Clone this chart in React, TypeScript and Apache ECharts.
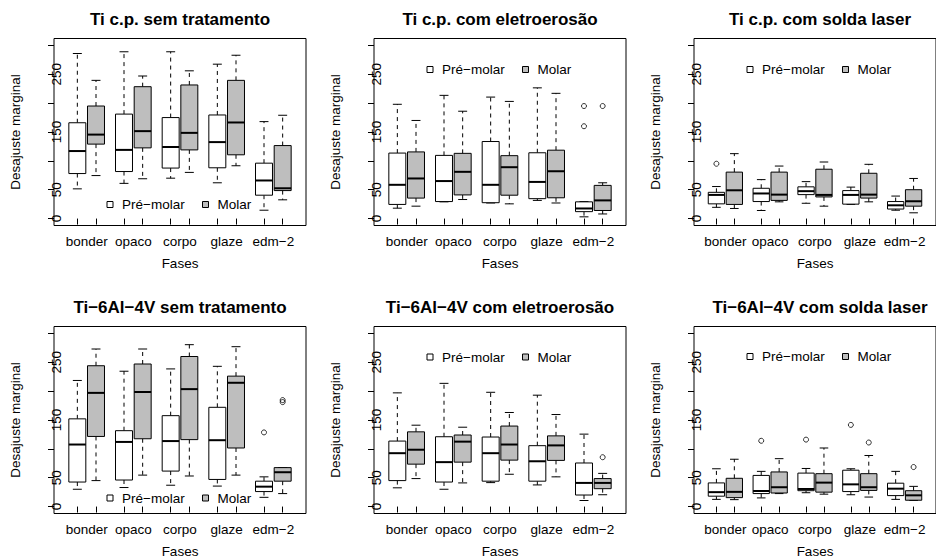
import React, { useEffect, useRef } from "react";
import * as echarts from "echarts";

const FONT = "'Liberation Sans', Arial, Helvetica, sans-serif";

const fases = ["bonder", "opaco", "corpo", "glaze", "edm−2"];
const tipos = ["Pré−molar", "Molar"];
const titulos = [
  "Ti c.p. sem tratamento",
  "Ti c.p. com eletroerosão",
  "Ti c.p. com solda laser",
  "Ti−6Al−4V sem tratamento",
  "Ti−6Al−4V com eletroerosão",
  "Ti−6Al−4V com solda laser",
];
const yTicks = [0, 50, 100, 150, 200, 250, 300];
const yLabels = [0, 50, 150, 250];

// [min, Q1, mediana, Q3, max] por fase
const tiSemPre = [[51.5, 78, 117, 166, 286], [61, 81.5, 119, 181, 289], [70, 87.5, 124, 175, 289], [62, 88, 132.5, 179.5, 267.5], [14.5, 40.5, 66, 96, 168]];
const tiSemMol = [[74.5, 129, 145.5, 195, 239.5], [69, 122.5, 151.5, 228.5, 247], [80, 119, 148.5, 231.5, 256], [91.5, 110.5, 166.5, 239.5, 283], [32.5, 48.5, 52.5, 126.5, 179]];
const tiElePre = [[18, 24.5, 58.5, 113.5, 198], [29, 29.5, 65, 109.5, 213.5], [27, 27.5, 58.5, 133.5, 210.5], [31.5, 34.5, 63.5, 114, 226.5], [3, 12, 17.5, 29, 29.5]];
const tiEleMol = [[21.5, 35.5, 69.5, 115.5, 170], [33, 41, 81, 113, 186], [25.5, 40.5, 89, 109, 203], [27, 36, 82, 118.5, 217], [8, 14, 31.5, 57.5, 62]];
const tiLasPre = [[19.5, 25.5, 41, 45.5, 55.5], [14, 29.5, 43.5, 52.5, 67.5], [26.5, 41.5, 47.5, 55, 64], [24.5, 25, 41, 48.5, 54.5], [14.5, 16.5, 23, 29.5, 39]];
const tiLasMol = [[17.5, 24.5, 49, 80.5, 112.5], [29, 31.5, 41.5, 80.5, 91], [21.5, 37.5, 41, 85.5, 98], [29, 35.5, 41.5, 78.5, 94], [10, 21.5, 30, 50, 69.5]];
const alSemPre = [[30, 42.5, 107.5, 152, 218.5], [33, 46, 112, 131.5, 234.5], [37, 61.5, 113.5, 157.5, 238.5], [35.5, 47, 115, 172, 243], [16, 26, 34.5, 44, 51.5]];
const alSemMol = [[45, 121.5, 197, 244, 273], [54.5, 117.5, 198.5, 247, 273], [53, 116, 203.5, 260, 280.5], [54.5, 101.5, 214.5, 226, 277], [22.5, 44, 59.5, 67.5, 67.5]];
const alElePre = [[32.5, 45, 92.5, 113.5, 197], [30, 42.5, 77, 121, 213.5], [41.5, 44, 92.5, 120.5, 198], [37.5, 44, 78.5, 105.5, 193], [10.5, 20, 41, 75.5, 125.5]];
const alEleMol = [[48.5, 73.5, 98.5, 129.5, 141], [41, 77, 112.5, 124, 137.5], [56, 80.5, 107.5, 139.5, 163], [51.5, 80, 106, 122.5, 159.5], [20.5, 31, 41, 48.5, 57.5]];
const alLasPre = [[12.5, 18, 25, 41, 65.5], [15, 22.5, 27, 54, 61], [24, 27.5, 30.5, 58, 66], [20.5, 26, 38.5, 63, 65.5], [12.5, 19, 31, 40.5, 61]];
const alLasMol = [[12, 15.5, 25.5, 49, 82], [22.5, 23.5, 33.5, 60, 83], [21.5, 25, 41.5, 57, 101.5], [16.5, 28, 33.5, 57, 88.5], [10.5, 11, 19.5, 27.5, 35]];

// outliers: [fase, tipo (0 pré, 1 molar), valor]
const tiSemOut: number[][] = [];
const tiEleOut = [[4, 0, 160], [4, 0, 195], [4, 1, 195]];
const tiLasOut = [[0, 0, 95]];
const alSemOut = [[4, 0, 128.5], [4, 1, 181], [4, 1, 184.5]];
const alEleOut = [[4, 1, 85.5]];
const alLasOut = [[1, 0, 114], [2, 0, 116], [3, 0, 141.5], [3, 1, 111], [4, 1, 68.5]];

const paineis = [
  { pre: tiSemPre, mol: tiSemMol, out: tiSemOut },
  { pre: tiElePre, mol: tiEleMol, out: tiEleOut },
  { pre: tiLasPre, mol: tiLasMol, out: tiLasOut },
  { pre: alSemPre, mol: alSemMol, out: alSemOut },
  { pre: alElePre, mol: alEleMol, out: alEleOut },
  { pre: alLasPre, mol: alLasMol, out: alLasOut },
];

const legendY = [204.5, 69.5, 69.5, 210, 69, 68.5];

const OFFSET = 0.2;
const BOX_HALF = 0.182;
const CAP_HALF = 0.096;
const FILLS = ["#ffffff", "#bebebe"];

const pos = (g: number, t: number) => g + 1 + (t === 0 ? -OFFSET : OFFSET);
const boxPositions = fases.flatMap((_, g) => [pos(g, 0), pos(g, 1)]);

function renderBox(fill: string) {
  return (params: any, api: any) => {
    const x = api.value(0);
    const mn = api.value(1), q1 = api.value(2), md = api.value(3), q3 = api.value(4), mx = api.value(5);
    const c = (v: number) => api.coord([x, v]);
    const hw = api.size([BOX_HALF, 0])[0];
    const ch = api.size([CAP_HALF, 0])[0];
    const pMin = c(mn), pQ1 = c(q1), pMd = c(md), pQ3 = c(q3), pMx = c(mx);
    const cx = pMd[0];
    const line = (x1: number, y1: number, x2: number, y2: number, extra: any = {}) => ({
      type: "line",
      shape: { x1, y1, x2, y2 },
      style: { stroke: "#000", lineWidth: 1, ...extra },
    });
    return {
      type: "group",
      children: [
        line(cx, pQ3[1], cx, pMx[1], { lineDash: [4, 4] }),
        line(cx, pQ1[1], cx, pMin[1], { lineDash: [4, 4] }),
        line(cx - ch, pMx[1], cx + ch, pMx[1]),
        line(cx - ch, pMin[1], cx + ch, pMin[1]),
        {
          type: "rect",
          shape: { x: cx - hw, y: pQ3[1], width: 2 * hw, height: pQ1[1] - pQ3[1] },
          style: { fill, stroke: "#000", lineWidth: 1 },
        },
        line(cx - hw, pMd[1], cx + hw, pMd[1], { lineWidth: 2 }),
      ],
    };
  };
}

function buildOption() {
  const grid: any[] = [], xAxis: any[] = [], yAxis: any[] = [], series: any[] = [], title: any[] = [], graphic: any[] = [];
  const txt = { color: "#000", fontFamily: FONT, fontSize: 13.5 };
  paineis.forEach((p, i) => {
    const ox = (i % 3) * 320;
    const oy = Math.floor(i / 3) * 288;
    grid.push({ left: 54 + ox, top: 38.5 + oy, width: 252, height: 187, show: true, borderColor: "#000", borderWidth: 1, backgroundColor: "transparent" });
    title.push({
      text: titulos[i], left: 180 + ox, top: oy + 10.5, textAlign: "center", padding: 0,
      textStyle: { color: "#000", fontFamily: FONT, fontSize: 17, fontWeight: "bold" },
    });
    xAxis.push({
      gridIndex: i, type: "value", min: 0.3, max: 5.7,
      axisLine: { show: false }, splitLine: { show: false },
      axisTick: { show: true, length: 6, customValues: boxPositions, lineStyle: { color: "#000", width: 1 } },
      axisLabel: { ...txt, margin: 9, customValues: [1, 2, 3, 4, 5], formatter: (v: number) => fases[Math.round(v) - 1] },
      name: "Fases", nameLocation: "middle", nameGap: 31, nameTextStyle: txt,
    });
    yAxis.push({
      gridIndex: i, type: "value", min: -12, max: 312,
      axisLine: { show: false }, splitLine: { show: false },
      axisTick: { show: true, length: 6, customValues: yTicks, lineStyle: { color: "#000", width: 1 } },
      axisLabel: { ...txt, margin: -9, rotate: 90, customValues: yLabels },
      name: "Desajuste marginal", nameLocation: "middle", nameGap: 32, nameTextStyle: txt,
    });
    [p.pre, p.mol].forEach((arr, t) => {
      series.push({
        type: "custom", name: tipos[t], xAxisIndex: i, yAxisIndex: i,
        itemStyle: { color: FILLS[t] },
        encode: { x: 0, y: [1, 2, 3, 4, 5] },
        data: arr.map((v, g) => [pos(g, t), ...v]),
        renderItem: renderBox(FILLS[t]),
        z: 2,
      });
    });
    series.push({
      type: "scatter", name: "outlier", xAxisIndex: i, yAxisIndex: i,
      symbol: "circle", symbolSize: 5,
      itemStyle: { color: "rgba(0,0,0,0)", borderColor: "#000", borderWidth: 1 },
      data: p.out.map(([g, t, v]) => [pos(g, t), v]),
      z: 3,
    });
    const ly = legendY[i] + oy;
    const legX = [107 + ox, 202.5 + ox];
    tipos.forEach((nm, t) => {
      graphic.push({
        type: "rect", x: legX[t], y: ly - 3, shape: { x: 0, y: 0, width: 6, height: 6 },
        style: { fill: FILLS[t], stroke: "#000", lineWidth: 1 }, z: 10,
      });
      graphic.push({
        type: "text", x: legX[t] + 15, y: ly,
        style: { text: nm, fill: "#000", font: `13.5px ${FONT}`, verticalAlign: "middle", align: "left" }, z: 10,
      });
    });
  });
  return { animation: false, backgroundColor: "#fff", grid, xAxis, yAxis, series, title, graphic, tooltip: { show: false } };
}

export default function App() {
  const ref = useRef<HTMLDivElement>(null);
  useEffect(() => {
    document.body.style.margin = "0";
    const chart = echarts.init(ref.current!, null, { renderer: "svg" });
    chart.setOption(buildOption() as any);
    return () => chart.dispose();
  }, []);
  return (
    <div style={{ position: "fixed", left: 0, top: 0, width: 936, height: 560, overflow: "hidden", background: "#fff" }}>
      <div ref={ref} style={{ width: 936, height: 560 }} />
    </div>
  );
}
